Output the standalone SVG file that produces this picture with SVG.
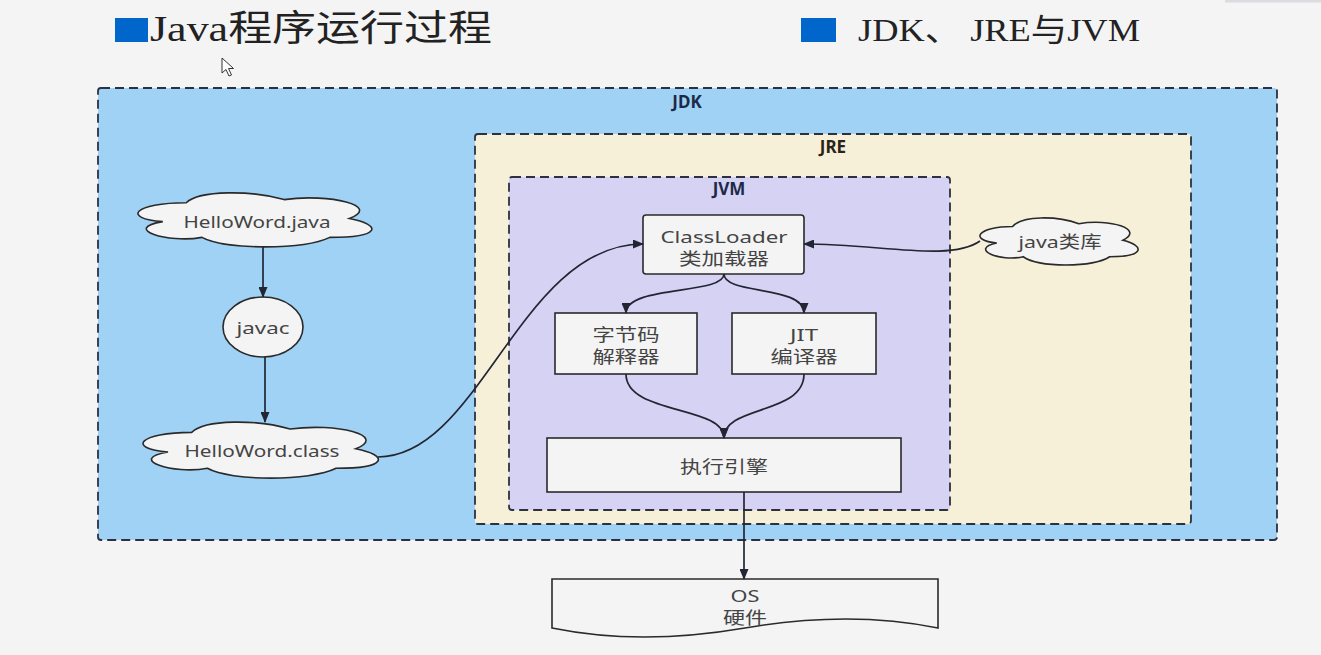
<svg xmlns="http://www.w3.org/2000/svg" width="1321" height="655" viewBox="0 0 1321 655">
<style>
.title{font-family:"Liberation Serif","Noto Sans CJK SC",serif;fill:#222}
.box{stroke:#2b3142;stroke-width:1.8;stroke-dasharray:9 5}
.lbl{font-family:"Noto Sans","Open Sans","Noto Sans CJK SC",sans-serif;font-weight:bold;font-size:17px;text-anchor:middle}
.node{fill:#f4f4f4;stroke:#2a2a2a;stroke-width:1.6}
.t{font-family:"Noto Sans","Noto Sans CJK SC",sans-serif;font-size:17px;fill:#444;text-anchor:middle}
.cloud{fill:#f4f4f4;stroke:#2a2a2a;stroke-width:1.6}
.edge{fill:none;stroke:#222633;stroke-width:1.7}
</style>
<defs>
<marker id="ah" markerUnits="userSpaceOnUse" markerWidth="11" markerHeight="9" refX="10" refY="4.5" orient="auto">
<path d="M0,0 L11,4.5 L0,9 Z" fill="#222633"/>
</marker>
</defs>
<rect width="1321" height="655" fill="#f4f4f4"/>
<line x1="1225" y1="1" x2="1321" y2="1" stroke="#dcdce0" stroke-width="3"/>

<g id="title1">
<rect x="115" y="18" width="33" height="24" fill="#0066cc"/>
<text class="title" x="150" y="41" font-size="36" textLength="342" lengthAdjust="spacingAndGlyphs">Java程序运行过程</text>
</g>
<g id="title2">
<rect x="801" y="18" width="35" height="24" fill="#0066cc"/>
<text class="title" x="858" y="41" font-size="32" textLength="282" lengthAdjust="spacingAndGlyphs">JDK、 JRE与JVM</text>
</g>
<g id="cursor">
<path d="M222,58 L222,73 L226,69.5 L229,76 L231.5,75 L228.5,68.5 L233.5,68.5 Z" fill="#fff" stroke="#333" stroke-width="1"/>
</g>

<g id="jdk">
<rect class="box" x="98" y="88" width="1179" height="452" rx="3" fill="#9fd2f4"/>
<text class="lbl" x="687" y="108" fill="#1b2a48">JDK</text>
</g>
<g id="jre">
<rect class="box" x="475" y="134" width="716" height="390" rx="3" fill="#f7f0d8"/>
<text class="lbl" x="833" y="153" fill="#2a2418">JRE</text>
</g>
<g id="jvm">
<rect class="box" x="509" y="177" width="441" height="333" rx="3" fill="#d6d2f4"/>
<text class="lbl" x="729" y="195" fill="#1b2a48">JVM</text>
</g>

<g id="helloword-java">
<path class="cloud" vector-effect="non-scaling-stroke" transform="translate(121,187) scale(2.61,0.63)" d="M25,25 C5,25 0,50 16,55 C0,66 18,90 31,80 C40,100 70,100 80,80 C100,80 100,60 87.5,50 C100,30 80,10 62.5,20 C50,5 30,5 25,25 Z"/>
<text class="t" x="257" y="228" textLength="147" lengthAdjust="spacingAndGlyphs">HelloWord.java</text>
</g>
<g id="javac">
<ellipse class="node" cx="263" cy="327" rx="40" ry="30"/>
<text class="t" x="263" y="334" textLength="53" lengthAdjust="spacingAndGlyphs">javac</text>
</g>
<g id="helloword-class">
<path class="cloud" vector-effect="non-scaling-stroke" transform="translate(126,416) scale(2.626,0.654)" d="M25,25 C5,25 0,50 16,55 C0,66 18,90 31,80 C40,100 70,100 80,80 C100,80 100,60 87.5,50 C100,30 80,10 62.5,20 C50,5 30,5 25,25 Z"/>
<text class="t" x="262" y="457" textLength="155" lengthAdjust="spacingAndGlyphs">HelloWord.class</text>
</g>
<g id="java-lib">
<path class="cloud" vector-effect="non-scaling-stroke" transform="translate(968.5,212.8) scale(1.765,0.549)" d="M25,25 C5,25 0,50 16,55 C0,66 18,90 31,80 C40,100 70,100 80,80 C100,80 100,60 87.5,50 C100,30 80,10 62.5,20 C50,5 30,5 25,25 Z"/>
<text class="t" x="1060" y="248" textLength="83" lengthAdjust="spacingAndGlyphs">java类库</text>
</g>
<g id="classloader">
<rect class="node" x="643" y="215" width="161" height="59" rx="3"/>
<text class="t" x="724" y="243" textLength="127" lengthAdjust="spacingAndGlyphs">ClassLoader</text>
<text class="t" x="724" y="265" textLength="90" lengthAdjust="spacingAndGlyphs">类加载器</text>
</g>
<g id="interpreter">
<rect class="node" x="555" y="313" width="142" height="61"/>
<text class="t" x="626" y="341" textLength="67" lengthAdjust="spacingAndGlyphs">字节码</text>
<text class="t" x="626" y="363" textLength="67" lengthAdjust="spacingAndGlyphs">解释器</text>
</g>
<g id="jit">
<rect class="node" x="732" y="313" width="144" height="61"/>
<text class="t" x="804" y="341" textLength="28" lengthAdjust="spacingAndGlyphs">JIT</text>
<text class="t" x="804" y="363" textLength="67" lengthAdjust="spacingAndGlyphs">编译器</text>
</g>
<g id="engine">
<rect class="node" x="547" y="438" width="354" height="54"/>
<text class="t" x="724" y="473" textLength="88" lengthAdjust="spacingAndGlyphs">执行引擎</text>
</g>
<g id="os">
<path class="node" d="M552,579 H938 V628 Q850,610 745,628 Q640,646 552,628 Z"/>
<text class="t" x="745" y="602" textLength="29" lengthAdjust="spacingAndGlyphs">OS</text>
<text class="t" x="745" y="624" textLength="44" lengthAdjust="spacingAndGlyphs">硬件</text>
</g>

<g id="connectors">
<path class="edge" marker-end="url(#ah)" d="M263,247 V297"/>
<path class="edge" marker-end="url(#ah)" d="M265,357 V422"/>
<path class="edge" marker-end="url(#ah)" d="M378,457 C480,457 520,244 643,244"/>
<path class="edge" marker-end="url(#ah)" d="M980,241 C950,262 880,244 804,244"/>
<path class="edge" marker-end="url(#ah)" d="M724,274 C724,295 626,285 626,313"/>
<path class="edge" marker-end="url(#ah)" d="M724,274 C724,295 804,285 804,313"/>
<path class="edge" marker-end="url(#ah)" d="M626,374 C626,415 724,405 724,438"/>
<path class="edge" marker-end="url(#ah)" d="M804,374 C804,415 724,405 724,438"/>
<path class="edge" marker-end="url(#ah)" d="M744,492 V579"/>
</g>
</svg>
